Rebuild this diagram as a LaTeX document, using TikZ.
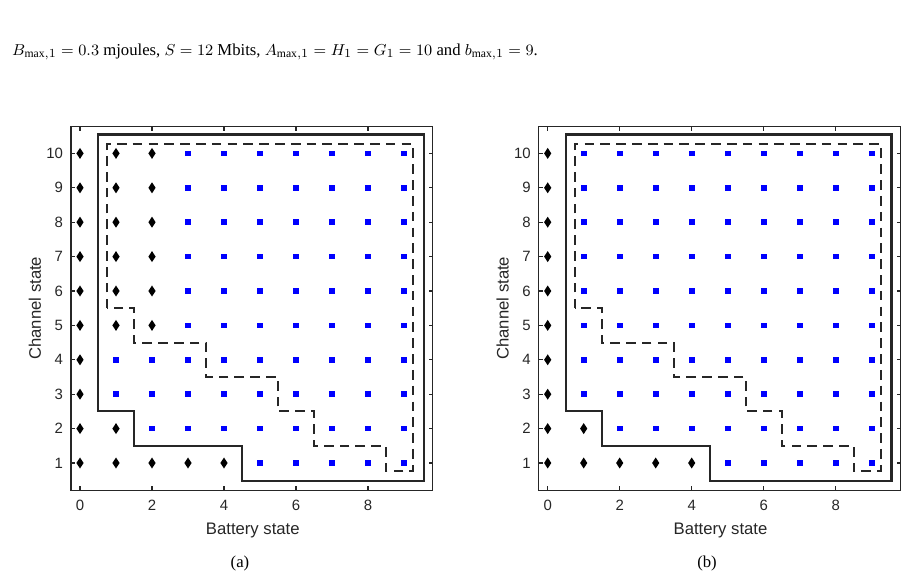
\documentclass[tikz,border=0pt]{standalone}
\usepackage{fontspec}
\setmainfont{Liberation Serif}
\setsansfont{Liberation Sans}
\usetikzlibrary{calc}
\definecolor{axisgray}{HTML}{262626}
\tikzset{
  axisline/.style={draw=axisgray,line width=0.6pt},
  ticklabel/.style={text=axisgray,font=\sffamily\fontsize{8.5}{10}\selectfont},
  solidbound/.style={draw=axisgray,line width=1.2pt},
  dashbound/.style={draw=axisgray,line width=1.1pt,dash pattern=on 5.5pt off 3.5pt},
  caption/.style={font=\fontsize{9.5}{11}\selectfont}
}
% one panel: #1 = x shift (cm), #2 = test for a diamond marker
\newcommand{\statepanel}[2]{%
\begin{scope}[shift={(#1,1.652)},x=0.72cm,y=0.688cm]
\draw[axisline] (-0.25,0.2) rectangle (9.8,10.78);
\foreach \tx in {0,2,...,8} {
  \draw[axisline] (\tx,0.2) -- ++(0,0.12);
  \draw[axisline] (\tx,10.78) -- ++(0,-0.12);
  \node[ticklabel,below] at (\tx,0.1) {\tx};
}
\foreach \ty in {1,...,10} {
  \draw[axisline] (-0.25,\ty) -- ++(0.11,0);
  \draw[axisline] (9.8,\ty) -- ++(-0.11,0);
  \node[ticklabel,left] at (-0.3,\ty) {\ty};
}
\node[ticklabel,rotate=90] at (-1.25,5.5) {\fontsize{9.5}{11}\selectfont Channel state};
\node[ticklabel] at (4.8,-0.95) {\fontsize{9.5}{11}\selectfont Battery state};
\foreach \bx in {0,...,9} {
  \foreach \cy in {1,...,10} {
    \pgfmathtruncatemacro{\isdia}{#2}
    \ifnum\isdia=1
      \fill (\bx,\cy) +(0,0.16) -- +(0.1,0) -- +(0,-0.16) -- +(-0.1,0) -- cycle;
    \else
      \fill[blue] (\bx,\cy) +(-0.08,-0.08) rectangle +(0.08,0.08);
    \fi
  }
}
\draw[solidbound] (0.5,2.5) -- (0.5,10.55) -- (9.55,10.55) -- (9.55,0.47) -- (4.5,0.47)
  -- (4.5,1.5) -- (1.5,1.5) -- (1.5,2.5) -- cycle;
\draw[dashbound] (0.75,5.5) -- (0.75,10.27) -- (9.25,10.27) -- (9.25,0.77) -- (8.5,0.77)
  -- (8.5,1.5) -- (6.5,1.5) -- (6.5,2.5) -- (5.5,2.5) -- (5.5,3.5) -- (3.5,3.5)
  -- (3.5,4.5) -- (1.5,4.5) -- (1.5,5.5) -- cycle;
\end{scope}}

\begin{document}
\begin{tikzpicture}
\useasboundingbox (0,0) rectangle (18.16,11.6);
\node[caption,anchor=west] at (0.12,10.56) {$B_{\max,1}=0.3$ mjoules, $S=12$ Mbits, $A_{\max,1}=H_1=G_1=10$ and $b_{\max,1}=9$.};
\statepanel{1.6}{or(\bx==0,or(and(\bx<=2,\cy>=5),or(and(\bx==1,\cy==2),and(\bx<=4,\cy==1))))}
\statepanel{10.954}{or(\bx==0,or(and(\bx==1,\cy==2),and(\bx<=4,\cy==1)))}
\node[caption] (capa) at (4.8,0.34) {(a)};
\node[caption] (capb) at (14.14,0.34) {(b)};
\end{tikzpicture}
\end{document}
